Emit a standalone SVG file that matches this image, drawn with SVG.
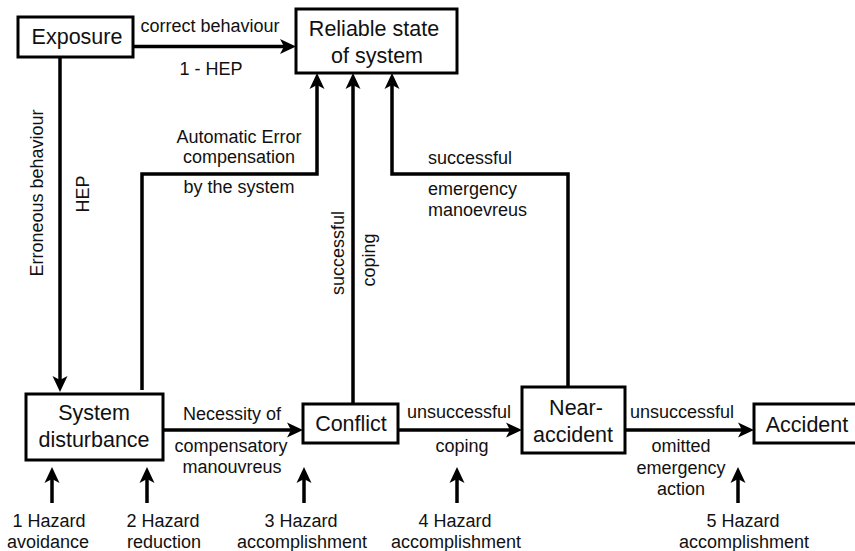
<svg xmlns="http://www.w3.org/2000/svg" width="855" height="551" viewBox="0 0 855 551">
<style>
.box{fill:#fff;stroke:#000;stroke-width:3}
.bt{font-family:"Liberation Sans",Arial,sans-serif;font-size:21.5px;fill:#111;text-anchor:middle}
.lt{font-family:"Liberation Sans",Arial,sans-serif;font-size:18px;fill:#111;text-anchor:middle}
.ll{font-family:"Liberation Sans",Arial,sans-serif;font-size:18px;fill:#111;text-anchor:start}
.c{fill:none;stroke:#000;stroke-width:3.5;marker-end:url(#ah)}
</style>
<defs>
<marker id="ah" markerUnits="userSpaceOnUse" markerWidth="17" markerHeight="17" viewBox="0 0 17 17" refX="4" refY="8.5" orient="auto">
<path d="M0,1 L16,8.5 L0,16 L4,8.5 Z" fill="#000"/>
</marker>
</defs>
<rect width="855" height="551" fill="#fff"/>
<g id="connectors">
<path class="c" d="M133,46.5 H284"/>
<path class="c" d="M60,57 V380"/>
<path class="c" d="M142,390 V174 H317 V85"/>
<path class="c" d="M353,404 V85"/>
<path class="c" d="M568,387 V174 H392 V85"/>
<path class="c" d="M163,430 H291"/>
<path class="c" d="M398,430 H510"/>
<path class="c" d="M625,430 H742"/>
<path class="c" d="M52,503 V479"/>
<path class="c" d="M147,503 V479"/>
<path class="c" d="M304,503 V479"/>
<path class="c" d="M457,503 V479"/>
<path class="c" d="M738,503 V479"/>
</g>
<g id="labels">
<text class="lt" x="210" y="32">correct behaviour</text>
<text class="lt" x="211" y="75">1 - HEP</text>
<text class="lt" transform="translate(43,193) rotate(-90)">Erroneous behaviour</text>
<text class="lt" transform="translate(89,194) rotate(-90)">HEP</text>
<text class="lt" x="239" y="143">Automatic Error</text>
<text class="lt" x="239" y="163">compensation</text>
<text class="lt" x="239" y="193">by the system</text>
<text class="lt" transform="translate(344,253) rotate(-90)">successful</text>
<text class="lt" transform="translate(375,260) rotate(-90)">coping</text>
<text class="ll" x="428" y="164">successful</text>
<text class="ll" x="428" y="195">emergency</text>
<text class="ll" x="428" y="216">manoevreus</text>
<text class="lt" x="232" y="420">Necessity of</text>
<text class="lt" x="231" y="452">compensatory</text>
<text class="lt" x="232" y="473">manouvreus</text>
<text class="lt" x="459" y="418">unsuccessful</text>
<text class="lt" x="462" y="452">coping</text>
<text class="lt" x="682" y="418">unsuccessful</text>
<text class="lt" x="681" y="452">omitted</text>
<text class="lt" x="681" y="474">emergency</text>
<text class="lt" x="681" y="495">action</text>
<text class="lt" x="49" y="527">1 Hazard</text>
<text class="lt" x="48" y="548">avoidance</text>
<text class="lt" x="163" y="527">2 Hazard</text>
<text class="lt" x="164" y="548">reduction</text>
<text class="lt" x="301" y="527">3 Hazard</text>
<text class="lt" x="302" y="548">accomplishment</text>
<text class="lt" x="455" y="527">4 Hazard</text>
<text class="lt" x="456" y="548">accomplishment</text>
<text class="lt" x="743" y="527">5 Hazard</text>
<text class="lt" x="744" y="548">accomplishment</text>
</g>
<g id="exposure">
<rect class="box" x="18" y="17" width="115" height="40"/>
<text class="bt" x="77" y="44">Exposure</text>
</g>
<g id="reliable">
<rect class="box" x="296" y="9" width="161" height="64"/>
<text class="bt" x="374" y="36">Reliable state</text>
<text class="bt" x="377" y="63">of system</text>
</g>
<g id="disturbance">
<rect class="box" x="26" y="394" width="137" height="66"/>
<text class="bt" x="94" y="420">System</text>
<text class="bt" x="94" y="447">disturbance</text>
</g>
<g id="conflict">
<rect class="box" x="303" y="404" width="95" height="39"/>
<text class="bt" x="351" y="431">Conflict</text>
</g>
<g id="near">
<rect class="box" x="522" y="387" width="103" height="66"/>
<text class="bt" x="576" y="415">Near-</text>
<text class="bt" x="573" y="442">accident</text>
</g>
<g id="accident">
<rect class="box" x="754" y="404" width="110" height="39"/>
<text class="bt" x="807" y="432">Accident</text>
</g>
</svg>
